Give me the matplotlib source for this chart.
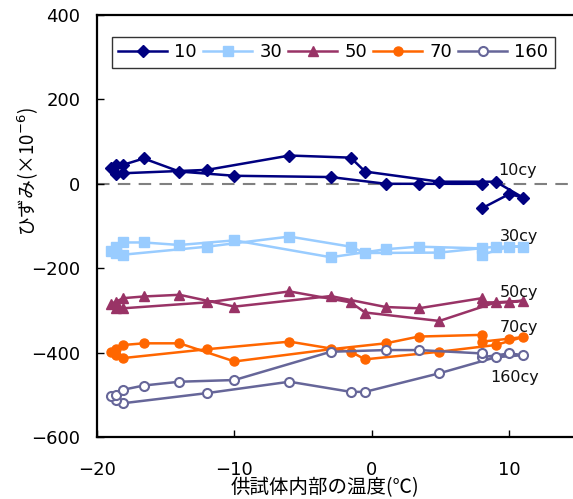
import matplotlib
matplotlib.use("Agg")
import matplotlib.pyplot as plt

plt.rcParams['font.family'] = ['Noto Sans CJK JP', 'DejaVu Sans']
plt.rcParams['axes.unicode_minus'] = True

# temperature sequence (°C), shared by all cycle series
temps = [8, 10, 11, 9, 4.9, -0.5, -1.55, -6, -12, -18.1, -18.6, -19, -18.6, -18.1,
         -16.6, -14, -10, -3, 1, 3.4, 8]

s10 = [-58, -24, -33, 5, 5, 29, 62, 67, 33, 25, 24, 37, 45, 45, 60, 29, 19, 16, 0, 0, 0]
s30 = [-168, -149, -149, -149, -163, -164, -149, -125, -149, -168, -164, -159, -149, -139,
       -139, -145, -134, -174, -155, -149, -153]
s50 = [-281, -281, -277, -281, -325, -305, -281, -255, -281, -295, -295, -285, -279, -271,
       -267, -263, -291, -266, -292, -295, -271]
s70 = [-374, -367, -363, -382, -398, -416, -398, -374, -392, -413, -405, -398, -392, -382,
       -378, -378, -421, -392, -378, -362, -358]
s160 = [-411, -402, -406, -411, -449, -493, -493, -469, -496, -520, -512, -503, -500, -488,
        -478, -469, -465, -398, -394, -394, -402]

series_labels = ['10', '30', '50', '70', '160']
annot_labels = ['10cy', '30cy', '50cy', '70cy', '160cy']
annot_pos = [(9.2, 31), (9.3, -126), (9.3, -258), (9.3, -341), (8.6, -458)]

fig = plt.figure(figsize=(5.73, 4.99), dpi=100)
ax = fig.add_axes([97/573, 1 - 437/499, 1 - 97/573, (437 - 15)/499])

ax.axhline(0, color='#808080', lw=1.5, ls=(0, (6, 4)), zorder=1)

styles = [
    dict(color='#000080', marker='D', ms=6.5, mfc='#000080', mec='#000080'),
    dict(color='#99CCFF', marker='s', ms=6.5, mfc='#99CCFF', mec='#99CCFF'),
    dict(color='#993366', marker='^', ms=7.5, mfc='#993366', mec='#993366'),
    dict(color='#FF6600', marker='o', ms=6.5, mfc='#FF6600', mec='#FF6600'),
    dict(color='#666699', marker='o', ms=6.5, mfc='white', mec='#666699', mew=1.5),
]
data = [s10, s30, s50, s70, s160]
for vals, lab, st in zip(data, series_labels, styles):
    ax.plot(temps, vals, lw=1.8, label=lab, zorder=3, **st)

for txt, (x, y) in zip(annot_labels, annot_pos):
    ax.text(x, y, txt, fontsize=11.5, ha='left', va='center', color='#111111',
            family='DejaVu Sans')

ax.set_xlim(-20, 14.62)
ax.set_ylim(-600, 400)
ax.set_xticks([-20, -10, 0, 10])
ax.set_yticks([-600, -400, -200, 0, 200, 400])
ax.tick_params(direction='in', length=5, width=1, labelsize=13)
ax.tick_params(axis='y', pad=12)
ax.tick_params(axis='x', pad=17)
for lbl in ax.get_xticklabels() + ax.get_yticklabels():
    lbl.set_family('DejaVu Sans')
for sp in ['left', 'bottom', 'top']:
    ax.spines[sp].set_linewidth(1.6)
ax.spines['right'].set_visible(False)

ax.set_xlabel('供試体内部の温度(℃)', fontsize=14)
ax.xaxis.set_label_coords((325 - 97) / 476, -0.095)
ax.set_ylabel('ひずみ(×10$^{-6}$)', fontsize=13.5)
ax.yaxis.set_label_coords(-0.118, (437 - 172) / 422)

leg = ax.legend(loc='upper left', bbox_to_anchor=(0.0315, 0.86, 0.93, 0.088),
                mode='expand', ncol=5, prop={'family': 'DejaVu Sans', 'size': 13},
                frameon=True, fancybox=False, edgecolor='black', handlelength=2.7,
                borderpad=0.35, columnspacing=0.6, handletextpad=0.4, borderaxespad=0)
leg.get_frame().set_linewidth(1.0)

fig.savefig('out.png', dpi=100)
